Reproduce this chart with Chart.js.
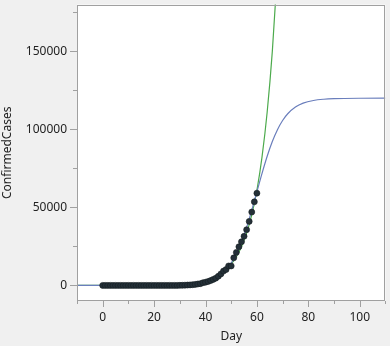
<!DOCTYPE html>
<html>
<head>
<meta charset="utf-8">
<script src="https://cdn.jsdelivr.net/npm/chart.js@4"></script>
<style>
  html, body { margin: 0; padding: 0; background: #f0f0f0; }
  canvas { display: block; }
</style>
</head>
<body>
<canvas id="chart" width="390" height="346"></canvas>
<script>
// observed daily totals
var days = [0, 1, 2, 3, 4, 5, 6, 7, 8, 9, 10, 11, 12, 13, 14, 15, 16, 17, 18, 19,
  20, 21, 22, 23, 24, 25, 26, 27, 28, 29, 30, 31, 32, 33, 34, 35, 36, 37, 38, 39,
  40, 41, 42, 43, 44, 45, 46, 47, 48, 49, 50, 51, 52, 53, 54, 55, 56, 57, 58, 59, 60];
var cases = [0, 0, 0, 0, 0, 0, 0, 0, 0, 2, 2, 2, 2, 2, 2, 2, 3, 3, 3, 3,
  3, 3, 3, 3, 3, 3, 3, 3, 3, 3, 20, 62, 155, 229, 322, 453, 655, 888, 1128, 1694,
  2036, 2502, 3089, 3858, 4636, 5883, 7375, 9172, 10149, 12462, 12462, 17660, 21157, 24747, 27980, 31506, 35713, 41035, 47021, 53578, 59138];

// logistic fit (blue)
var logisticDays = [-10, 0, 10, 20, 30, 35, 40, 44, 48, 50, 52, 54, 56, 58, 60, 62, 64, 66, 68, 70, 72, 75, 78, 82, 86, 90, 100, 110];
var logisticValues = [0, 1, 5, 40, 297, 803, 2158, 4700, 9983, 14305, 20158, 27778, 37203, 48158, 60000, 71842, 82797, 92222, 99842, 105696, 110017, 114307, 116810, 118545, 119341, 119703, 119960, 119995];

// exponential fit (green)
var expDays = [-10, 0, 10, 20, 30, 35, 40, 44, 48, 50, 52, 54, 56, 58, 60, 62, 64, 66, 68];
var expValues = [2, 8, 34, 151, 678, 1435, 3037, 5534, 10084, 13610, 18374, 24800, 33478, 45190, 61000, 82343, 111150, 150036, 202527];

var xTickValues = [-10, 0, 10, 20, 30, 40, 50, 60, 70, 80, 90, 100, 110];
var xTickLabels = ['', '0', '', '20', '', '40', '', '60', '', '80', '', '100', ''];
var yTickValues = [0, 25000, 50000, 75000, 100000, 125000, 150000, 175000];
var yTickLabels = ['0', '', '50000', '', '100000', '', '150000', ''];

function pairs(xs, ys) {
  return xs.map(function (x, i) { return { x: x, y: ys[i] }; });
}

var AXIS = '#a0a0a0';
var TEXT = '#222222';

// white plot area, grey frame and JMP-style tick marks (long = labelled)
var framePlugin = {
  id: 'frame',
  beforeDatasetsDraw: function (chart) {
    var a = chart.chartArea, ctx = chart.ctx;
    ctx.save();
    ctx.fillStyle = '#ffffff';
    ctx.fillRect(a.left, a.top, a.right - a.left, a.bottom - a.top);
    ctx.restore();
  },
  afterDraw: function (chart) {
    var a = chart.chartArea, ctx = chart.ctx;
    var xs = chart.scales.x, ys = chart.scales.y;
    ctx.save();
    ctx.strokeStyle = AXIS;
    ctx.lineWidth = 1;
    ctx.strokeRect(Math.round(a.left) + 0.5, Math.round(a.top) + 0.5,
      Math.round(a.right - a.left) - 1, Math.round(a.bottom - a.top) - 1);
    ctx.beginPath();
    xTickValues.forEach(function (v, i) {
      var px = Math.round(xs.getPixelForValue(v)) + 0.5;
      var len = xTickLabels[i] ? 6 : 3;
      ctx.moveTo(px, a.bottom);
      ctx.lineTo(px, a.bottom + len);
    });
    yTickValues.forEach(function (v, i) {
      var py = Math.round(ys.getPixelForValue(v)) + 0.5;
      var len = yTickLabels[i] ? 7 : 4;
      ctx.moveTo(a.left, py);
      ctx.lineTo(a.left - len, py);
    });
    ctx.stroke();
    ctx.restore();
  }
};

new Chart(document.getElementById('chart'), {
  type: 'scatter',
  data: {
    datasets: [{
      label: 'ConfirmedCases',
      data: pairs(days, cases),
      pointRadius: 3,
      pointBackgroundColor: '#243038',
      pointBorderColor: '#141c20',
      pointBorderWidth: 0.6,
      showLine: false,
      order: 0
    }, {
      label: 'Logistic',
      data: pairs(logisticDays, logisticValues),
      showLine: true,
      borderColor: '#6a7ebc',
      borderWidth: 1.2,
      pointRadius: 0,
      cubicInterpolationMode: 'monotone',
      order: 1
    }, {
      label: 'Exponential',
      data: pairs(expDays, expValues),
      showLine: true,
      borderColor: '#4caa4c',
      borderWidth: 1.2,
      pointRadius: 0,
      cubicInterpolationMode: 'monotone',
      order: 2
    }]
  },
  options: {
    responsive: false,
    animation: false,
    layout: { padding: { left: 0, top: 1, right: 4, bottom: 0 } },
    plugins: { legend: { display: false }, tooltip: { enabled: false } },
    scales: {
      x: {
        type: 'linear',
        min: -10,
        max: 110,
        afterFit: function (s) { s.height = 45; s.paddingLeft = 0; s.paddingRight = 0; },
        afterBuildTicks: function (s) {
          s.ticks = xTickValues.map(function (v) { return { value: v }; });
        },
        grid: { display: false, drawTicks: false },
        border: { display: false },
        ticks: {
          padding: 9,
          autoSkip: false,
          maxRotation: 0,
          color: TEXT,
          font: { family: 'Noto Sans', size: 12 },
          callback: function (v, i) { return xTickLabels[i]; }
        },
        title: {
          display: true,
          text: 'Day',
          color: TEXT,
          font: { family: 'Noto Sans', size: 12 },
          padding: { top: 0, bottom: 2 }
        }
      },
      y: {
        type: 'linear',
        min: -10000,
        max: 180000,
        afterFit: function (s) { s.width = 77; s.paddingTop = 0; s.paddingBottom = 0; },
        afterBuildTicks: function (s) {
          s.ticks = yTickValues.map(function (v) { return { value: v }; });
        },
        grid: { display: false, drawTicks: false },
        border: { display: false },
        ticks: {
          padding: 10,
          autoSkip: false,
          color: TEXT,
          font: { family: 'Noto Sans', size: 12 },
          callback: function (v, i) { return yTickLabels[i]; }
        },
        title: {
          display: true,
          text: 'ConfirmedCases',
          color: TEXT,
          font: { family: 'Noto Sans', size: 12 },
          padding: { top: 0, bottom: 0 }
        }
      }
    }
  },
  plugins: [framePlugin]
});
</script>
</body>
</html>
